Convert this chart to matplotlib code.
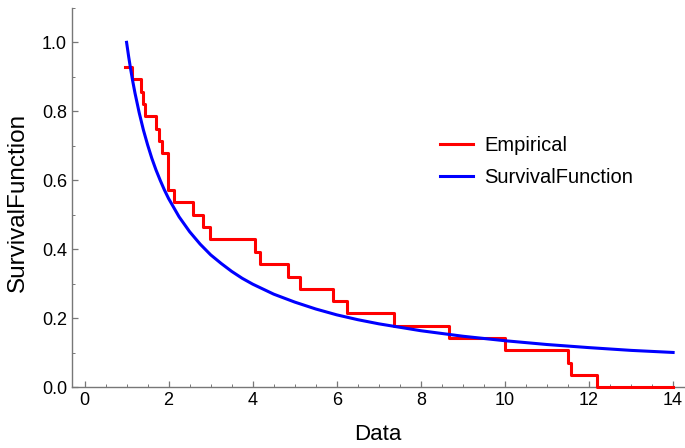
import matplotlib
matplotlib.use("Agg")
import matplotlib.pyplot as plt
from matplotlib.ticker import MultipleLocator

plt.rcParams['font.family'] = ['Liberation Sans', 'DejaVu Sans']

# empirical survival: x where each step starts, level after the step
emp_x = [0.96, 1.12, 1.34, 1.38, 1.43, 1.70, 1.77, 1.84, 1.99, 2.12, 2.59, 2.82,
         2.99, 4.05, 4.17, 4.85, 5.12, 5.90, 6.25, 7.36, 8.68, 10.0, 11.51, 11.57,
         12.18, 14.0]
emp_y = [0.929, 0.893, 0.857, 0.821, 0.786, 0.750, 0.714, 0.679, 0.571, 0.536,
         0.500, 0.464, 0.429, 0.393, 0.357, 0.321, 0.286, 0.250, 0.214, 0.179,
         0.143, 0.107, 0.071, 0.036, 0.0, 0.0]

# fitted survival function
sf_x = [1.0, 1.05, 1.1, 1.15, 1.2, 1.3, 1.4, 1.5, 1.6, 1.7, 1.8, 1.9, 2.0, 2.25,
        2.5, 2.75, 3.0, 3.25, 3.5, 3.75, 4.0, 4.5, 5.0, 5.5, 6.0, 6.5, 7.0, 8.0,
        9.0, 10.0, 11.0, 12.0, 13.0, 14.0]
sf_y = [1.0, 0.958, 0.920, 0.885, 0.853, 0.796, 0.746, 0.703, 0.664, 0.630,
        0.600, 0.572, 0.547, 0.494, 0.451, 0.415, 0.384, 0.359, 0.336, 0.316,
        0.299, 0.270, 0.247, 0.227, 0.210, 0.196, 0.184, 0.164, 0.148, 0.135,
        0.124, 0.115, 0.107, 0.101]

fig = plt.figure(figsize=(6.85, 4.48), dpi=100)
ax = fig.add_axes([0.105, 0.1355, 0.893, 0.847])

ax.plot(emp_x, emp_y, color="red", lw=2.2, drawstyle="steps-post",
        label="Empirical", clip_on=False, zorder=3)
ax.plot(sf_x, sf_y, color="blue", lw=2.2, label="SurvivalFunction",
        clip_on=False, zorder=3)

ax.set_xlim(-0.3, 14.25)
ax.set_ylim(0, 1.1)
ax.xaxis.set_major_locator(MultipleLocator(2))
ax.xaxis.set_minor_locator(MultipleLocator(0.5))
ax.yaxis.set_major_locator(MultipleLocator(0.2))
ax.yaxis.set_minor_locator(MultipleLocator(0.1))
ax.set_yticklabels(["%.1f" % v for v in ax.get_yticks()])

for s in ["top", "right"]:
    ax.spines[s].set_visible(False)
for s in ["left", "bottom"]:
    ax.spines[s].set_color("#777777")
    ax.spines[s].set_linewidth(1.0)
ax.tick_params(which="both", direction="in", color="#777777", labelsize=13)
ax.tick_params(which="major", length=4.5, width=0.9)
ax.tick_params(which="minor", length=2.5, width=0.7)

ax.set_xlabel("Data", fontsize=16, labelpad=11)
ax.set_ylabel("SurvivalFunction", fontsize=17.5)
ax.yaxis.set_label_coords(-0.071, 0.487)

ax.legend(loc="upper left", bbox_to_anchor=(0.572, 0.71), frameon=False,
          fontsize=14.5, handlelength=1.64, handletextpad=0.55, labelspacing=0.63)

fig.savefig("out.png", dpi=100)
